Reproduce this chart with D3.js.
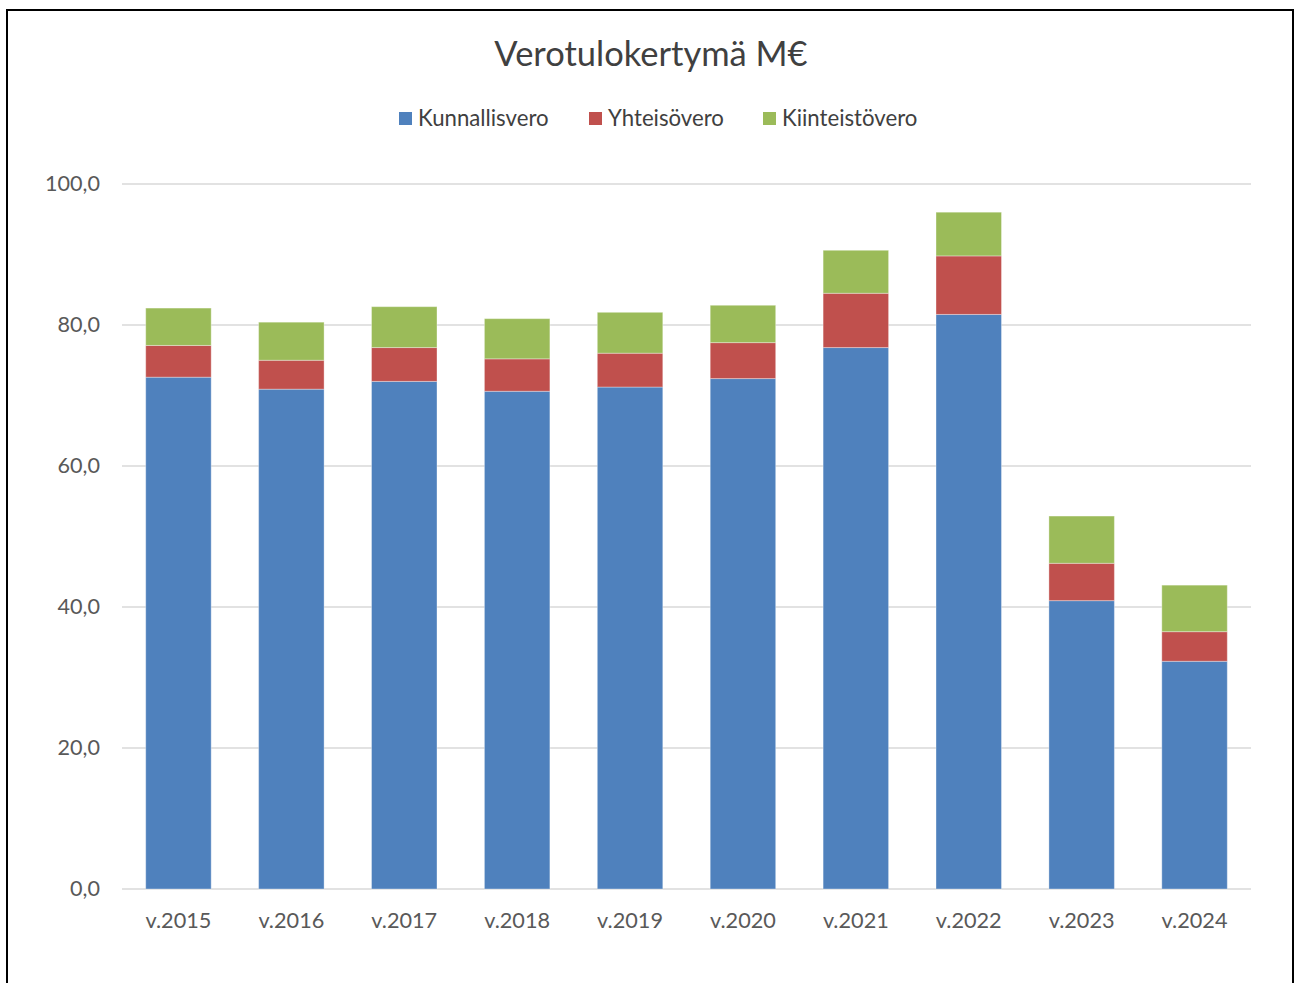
<!DOCTYPE html>
<html>
<head>
<meta charset="utf-8">
<script src="https://cdn.jsdelivr.net/npm/d3@7"></script>
<style>
  html, body { margin: 0; padding: 0; background: #fff; }
  svg { display: block; }
  text { font-family: Lato, "Open Sans", sans-serif; }
</style>
</head>
<body>
<svg id="chart" width="1295" height="983"></svg>
<script>
const categories = ["v.2015","v.2016","v.2017","v.2018","v.2019","v.2020","v.2021","v.2022","v.2023","v.2024"];
const seriesNames = ["Kunnallisvero","Yhteisövero","Kiinteistövero"];
const kunnallisvero = [72.6, 70.9, 72.0, 70.6, 71.2, 72.4, 76.8, 81.5, 40.9, 32.3];
const yhteisovero   = [4.5, 4.1, 4.8, 4.6, 4.8, 5.1, 7.7, 8.3, 5.3, 4.2];
const kiinteistovero= [5.3, 5.4, 5.8, 5.7, 5.8, 5.3, 6.1, 6.2, 6.7, 6.6];
const yTicks = [0, 20, 40, 60, 80, 100];
const colors = ["#4F81BD", "#C0504D", "#9BBB59"];

const svg = d3.select("#chart");

// outer frame
svg.append("rect")
  .attr("x", 7).attr("y", 10).attr("width", 1286).attr("height", 990)
  .attr("fill", "#fff").attr("stroke", "#000").attr("stroke-width", 2);

const margin = {left: 122, right: 1251, top: 184, bottom: 889};

const x = d3.scaleBand().domain(categories)
  .range([margin.left, margin.right])
  .paddingInner(0.42).paddingOuter(0.21);
const y = d3.scaleLinear().domain([0, 100]).range([margin.bottom, margin.top]);

// gridlines
svg.append("g").selectAll("line").data(yTicks).join("line")
  .attr("x1", margin.left).attr("x2", margin.right)
  .attr("y1", d => y(d)).attr("y2", d => y(d))
  .attr("stroke", "#d9d9d9").attr("stroke-width", 1.5);

// y axis labels
const yAxis = d3.axisLeft(y).tickValues(yTicks).tickSize(0).tickPadding(0)
  .tickFormat(d => d3.format(".1f")(d).replace(".", ","));
const gy = svg.append("g").attr("transform", `translate(100,0)`).call(yAxis);
gy.select(".domain").remove();
gy.selectAll("text").attr("font-size", 21.6).attr("fill", "#595959")
  .style("font-family", "Lato, sans-serif");

// x axis labels
const xAxis = d3.axisBottom(x).tickSize(0).tickPadding(0);
const gx = svg.append("g").attr("transform", `translate(0,${margin.bottom + 24})`).call(xAxis);
gx.select(".domain").remove();
gx.selectAll("text").attr("font-size", 21.7).attr("fill", "#595959")
  .style("font-family", "Lato, sans-serif");

// stacked data
const rows = categories.map((c, i) => ({
  cat: c,
  Kunnallisvero: kunnallisvero[i],
  "Yhteisövero": yhteisovero[i],
  "Kiinteistövero": kiinteistovero[i]
}));
const stack = d3.stack().keys(seriesNames)(rows);

svg.append("g").selectAll("g").data(stack).join("g")
  .attr("fill", (d, i) => colors[i])
  .selectAll("rect").data(d => d).join("rect")
  .attr("x", d => x(d.data.cat))
  .attr("width", x.bandwidth())
  .attr("y", d => y(d[1]))
  .attr("height", d => y(d[0]) - y(d[1]))
  .attr("stroke", "rgba(255,255,255,0.35)").attr("stroke-width", 1);

// title
svg.append("text").attr("x", 651).attr("y", 66)
  .attr("text-anchor", "middle").attr("font-size", 34.5).attr("fill", "#404040")
  .text("Verotulokertymä M€");

// legend
const legendX = [399, 589, 763];
const lg = svg.append("g").selectAll("g").data(seriesNames).join("g")
  .attr("transform", (d, i) => `translate(${legendX[i]},112)`);
lg.append("rect").attr("width", 13).attr("height", 13).attr("fill", (d, i) => colors[i]);
lg.append("text").attr("x", 19).attr("y", 14).attr("font-size", 22.2).attr("fill", "#404040")
  .text(d => d);
</script>
</body>
</html>
